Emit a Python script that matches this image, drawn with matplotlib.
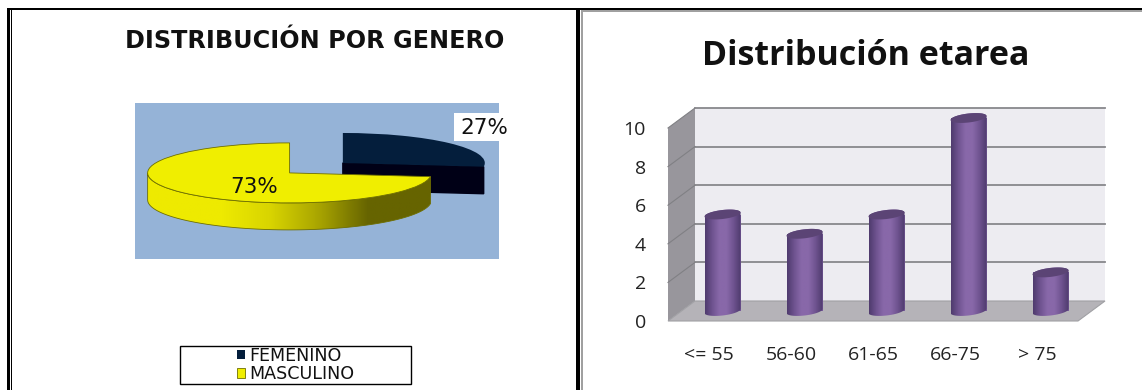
import numpy as np
import matplotlib
matplotlib.use('Agg')
from matplotlib import pyplot as plt
from matplotlib.patches import Polygon, Rectangle
from matplotlib.colors import LinearSegmentedColormap

# data
genero_labels = ['FEMENINO', 'MASCULINO']
genero_values = [27, 73]
genero_colors = ['#041E3C', '#F0EE00']
edad_labels = ['<= 55', '56-60', '61-65', '66-75', '> 75']
edad_values = [5, 4, 5, 10, 2]
edad_ticks = [0, 2, 4, 6, 8, 10]

W, H = 1142, 390
fig = plt.figure(figsize=(W / 100, H / 100), dpi=100, facecolor='white')


def px_axes(x0, y0, x1, y1):
    return fig.add_axes([x0 / W, 1 - y1 / H, (x1 - x0) / W, (y1 - y0) / H])


# page frame, in pixels
bg = px_axes(0, 0, W, H)
bg.set_xlim(0, W)
bg.set_ylim(H, 0)
bg.axis('off')
bg.add_patch(Rectangle((581, 10), W - 581, 2, color='#A0A0A0', lw=0))
bg.add_patch(Rectangle((581, 10), 2, H - 10, color='#A0A0A0', lw=0))
bg.add_patch(Rectangle((7.3, 8), W - 7.3, 2.2, color='black', lw=0))
bg.add_patch(Rectangle((7.3, 8), 2.2, H - 8, color='black', lw=0))
bg.add_patch(Rectangle((11, 8), 1.2, H - 8, color='black', lw=0))
bg.add_patch(Rectangle((575.7, 8), 4.3, H - 8, color='black', lw=0))

# ---- pie ----
ax1 = px_axes(135, 103, 499, 259)
wedges, _ = ax1.pie(genero_values, colors=genero_colors, startangle=90, counterclock=False,
                    explode=[0.5, 0])
ax1.set_aspect('auto')
ax1.set_frame_on(True)
ax1.set_facecolor('#95B3D7')
for s in ax1.spines.values():
    s.set_visible(False)
depth = 0.9

fem, mas = wedges
fem.set_zorder(3)
mas.set_zorder(6)
mas.set_edgecolor('#6E6E00')
mas.set_linewidth(0.6)

# cut face of the pulled out slice
a = np.radians(fem.theta1)
cx, cy = fem.center
rim = (cx + np.cos(a), cy + np.sin(a))
ax1.add_patch(Polygon([(cx, cy), rim, (rim[0], rim[1] - depth), (cx, cy - depth)],
                      color='#000016', zorder=2))

# yellow outer wall
a1 = np.radians(np.linspace(180, 360 + mas.theta2, 80))
mx, my = mas.center
top_x = mx + np.cos(a1)
top_y = my + np.sin(a1)
wall = Polygon(np.r_[np.c_[top_x, top_y], np.c_[top_x[::-1], top_y[::-1] - depth]],
               facecolor='none', edgecolor='#6E6E00', lw=0.6, zorder=5)
ax1.add_patch(wall)
cmap = LinearSegmentedColormap.from_list('yw', ['#EEEA00', '#D8D400', '#A8A400', '#666400'])
grad = np.clip((np.linspace(0, 1, 256) - 0.26) / 0.52, 0, 1)[None, :]
im = ax1.imshow(grad, extent=(top_x.min(), top_x.max(), -2, 0), cmap=cmap, aspect='auto', zorder=4.5)
im.set_clip_path(Polygon(wall.get_xy(), transform=ax1.transData))
ax1.set_xlim(-1.089, 1.475)
ax1.set_ylim(-2.87, 2.33)

ax1.add_patch(Rectangle((454, 113), 45, 28, transform=bg.transData, color='white', lw=0, zorder=7))
ax1.text(484.5, 128, '27%', transform=bg.transData, fontsize=15.5, ha='center', va='center',
         color='#111111', zorder=8)
ax1.text(254, 187, '73%', transform=bg.transData, fontsize=15.5, ha='center', va='center',
         color='#111111', zorder=8)

fig.text(315 / W, 1 - 48.5 / H, 'DISTRIBUCIÓN POR GENERO', fontsize=17.2, fontweight='bold',
         ha='center', va='baseline', color='#111111')

bg.add_patch(Rectangle((180, 346), 231, 38, facecolor='white', edgecolor='black', lw=1))
fig.legend([fem, mas], genero_labels, loc='center', bbox_to_anchor=(296 / W, 1 - 365 / H), frameon=False,
           fontsize=12.6, handlelength=0.46, handleheight=0.46, handletextpad=0.25, labelspacing=0.02,
           borderpad=0, labelcolor='#111111')

# ---- bars ----
ax2 = px_axes(668, 128, 1078, 321)
ax2.set_xlim(-0.5, 4.5)
ax2.set_ylim(0, 10)
ax2.patch.set_alpha(0)
for s in ax2.spines.values():
    s.set_visible(False)
dx, dy = 27 / 82, 20 / 19.3

ax2.add_patch(Polygon([(-0.5 + dx, dy), (4.5 + dx, dy), (4.5 + dx, 10 + dy), (-0.5 + dx, 10 + dy)],
                      facecolor='#EDECF1', edgecolor='none', clip_on=False, zorder=1))
ax2.add_patch(Polygon([(-0.5, 0), (-0.5 + dx, dy), (-0.5 + dx, 10 + dy), (-0.5, 10)],
                      facecolor='#98969C', edgecolor='none', clip_on=False, zorder=1))
ax2.add_patch(Polygon([(-0.5, 0), (4.5, 0), (4.5 + dx, dy), (-0.5 + dx, dy)],
                      facecolor='#B5B3B8', edgecolor='#A0A0A4', lw=0.8, clip_on=False, zorder=1.5))
for t in edad_ticks[1:]:
    ax2.plot([-0.5 + dx, 4.5 + dx], [t + dy, t + dy], color='#88888C', lw=1.3, clip_on=False, zorder=1.2)
    ax2.plot([-0.5, -0.5 + dx], [t, t + dy], color='#808084', lw=0.8, clip_on=False, zorder=1.2)

xs = np.arange(len(edad_values)) + dx / 2
base = dy / 2
half = 18 / 82
b_el = 4.5 / 19.3
skew = 2 / 19.3
bars = ax2.bar(xs, edad_values, width=half * 2, bottom=base, color='#7A5C9C', zorder=2, clip_on=False)
cyl = LinearSegmentedColormap.from_list('cyl', ['#4F3B6E', '#6F5390', '#8868A9', '#8868A9', '#6F5390', '#4F3B6E'])
tt = np.linspace(0, 2 * np.pi, 60)
for x, v in zip(xs, edad_values):
    low = tt[30:]
    up = tt[:31]
    outline = np.r_[np.c_[x + half * np.cos(low), base + b_el * np.sin(low) + skew * np.cos(low)],
                    np.c_[x + half * np.cos(up), base + v + b_el * np.sin(up) + skew * np.cos(up)]]
    im = ax2.imshow(np.linspace(0, 1, 64)[None, :], extent=(x - half, x + half, -1, 12), cmap=cyl,
                    aspect='auto', zorder=3)
    im.set_clip_box(fig.bbox)
    im.set_clip_path(Polygon(outline, transform=ax2.transData))
    ax2.add_patch(Polygon(np.c_[x + half * np.cos(tt), base + v + b_el * np.sin(tt) + skew * np.cos(tt)],
                          facecolor='#5B4475', edgecolor='none', zorder=4, clip_on=False))
ax2.set_xlim(-0.5, 4.5)
ax2.set_ylim(0, 10)

ax2.set_yticks(edad_ticks)
ax2.set_xticks(range(len(edad_labels)))
ax2.set_xticklabels(edad_labels)
ax2.tick_params(axis='both', length=0, labelsize=14, labelcolor='#222222', labelfontfamily='Open Sans')
ax2.tick_params(axis='y', pad=16)
ax2.tick_params(axis='x', pad=18)

fig.text(866 / W, 1 - 65 / H, 'Distribución etarea', fontsize=24.5, fontweight='bold', family='Open Sans',
         ha='center', va='baseline', color='#111111')

fig.savefig('out.png', dpi=100)
